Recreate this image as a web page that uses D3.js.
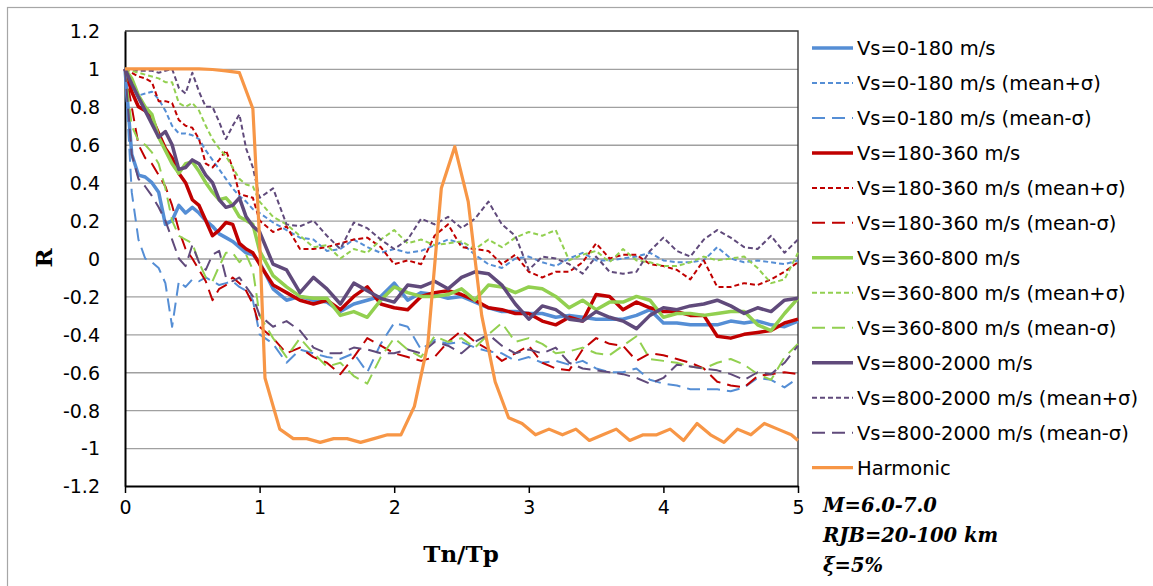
<!DOCTYPE html>
<html>
<head>
<meta charset="utf-8">
<script src="https://cdn.jsdelivr.net/npm/d3@7"></script>
<style>
  body { margin: 0; background: #fff; }
  svg { display: block; }
</style>
</head>
<body>
<svg id="chart" width="1153" height="586"></svg>
<script>
// Tn/Tp grid shared by the Vs curves (finer steps below 1.0)
const T = [0, 0.05, 0.1, 0.15, 0.2, 0.25, 0.3, 0.35, 0.4, 0.45, 0.5, 0.55, 0.6, 0.65, 0.7, 0.75, 0.8, 0.85, 0.9, 0.95, 1.0,
  1.1, 1.2, 1.3, 1.4, 1.5, 1.6, 1.7, 1.8, 1.9, 2.0,
  2.1, 2.2, 2.3, 2.4, 2.5, 2.6, 2.7, 2.8, 2.9, 3.0,
  3.1, 3.2, 3.3, 3.4, 3.5, 3.6, 3.7, 3.8, 3.9, 4.0,
  4.1, 4.2, 4.3, 4.4, 4.5, 4.6, 4.7, 4.8, 4.9, 5.0]

// Vs=0-180 m/s
const vs0_180 = [1, .55, .44, .43, .4, .35, .18, .2, .28, .24, .27, .24, .2, .17, .13, .11, .09, .06, .03, .02, -.02,
  -.16, -.22, -.2, -.22, -.23, -.28, -.24, -.22, -.2, -.13,
  -.22, -.18, -.19, -.21, -.2, -.23, -.26, -.28, -.28, -.29,
  -.29, -.31, -.3, -.31, -.32, -.32, -.32, -.3, -.27, -.34,
  -.34, -.35, -.35, -.35, -.33, -.34, -.33, -.35, -.36, -.33]
const vs0_180_plus = [1, .94, .86, .87, .88, .84, .78, .7, .66, .66, .65, .63, .57, .52, .47, .42, .37, .33, .3, .26, .24,
  .19, .15, .11, .1, .04, .05, .1, .06, .03, .05,
  .03, .04, .07, .1, .08, .02, -.03, -.05, 0, .01,
  -.02, -.04, 0, .03, -.01, -.01, 0, .01, .03, -.01,
  -.02, -.02, -.01, .06, 0, -.02, -.01, -.02, -.03, -.01]
const vs0_180_minus = [1, .35, .1, 0, -.02, -.05, -.13, -.36, -.12, -.15, -.11, -.12, -.1, -.12, -.14, -.13, -.12, -.15, -.17, -.22, -.4,
  -.45, -.55, -.48, -.5, -.52, -.53, -.5, -.6, -.45, -.34,
  -.36, -.48, -.43, -.45, -.44, -.47, -.49, -.5, -.54, -.52,
  -.55, -.54, -.56, -.54, -.58, -.6, -.6, -.58, -.64, -.66,
  -.67, -.69, -.69, -.69, -.7, -.68, -.63, -.64, -.68, -.63]

// Vs=180-360 m/s
const vs180_360 = [1, .88, .8, .78, .74, .66, .58, .53, .45, .4, .31, .28, .2, .12, .15, .19, .18, .08, .05, .03, -.03,
  -.14, -.18, -.22, -.24, -.22, -.27, -.2, -.15, -.24, -.26,
  -.27, -.2, -.18, -.17, -.19, -.22, -.26, -.27, -.29, -.29,
  -.33, -.35, -.31, -.33, -.19, -.2, -.27, -.23, -.26, -.28,
  -.28, -.3, -.3, -.41, -.42, -.4, -.39, -.38, -.34, -.32]
const vs180_360_plus = [1, .98, .96, .95, .93, .83, .83, .82, .73, .7, .69, .63, .5, .48, .52, .57, .48, .34, .33, .32, .2,
  .14, .17, .05, .05, .06, .08, .1, .11, .06, -.03,
  -.01, -.03, .12, .18, .06, .05, .04, -.03, .02, -.07,
  -.1, -.07, -.07, -.02, .08, 0, .02, .02, -.03, -.04,
  -.06, -.11, -.01, -.15, -.15, -.13, -.14, -.11, -.07, -.02]
const vs180_360_minus = [1, .8, .6, .53, .5, .44, .38, .28, .15, .05, 0, -.06, -.12, -.22, -.16, -.14, -.1, -.13, -.17, -.24, -.36,
  -.42, -.5, -.47, -.52, -.55, -.61, -.52, -.42, -.46, -.5,
  -.52, -.54, -.52, -.44, -.38, -.44, -.48, -.54, -.5, -.46,
  -.55, -.58, -.59, -.48, -.42, -.45, -.46, -.54, -.5, -.51,
  -.53, -.55, -.58, -.65, -.67, -.68, -.62, -.61, -.6, -.61]

// Vs=360-800 m/s
const vs360_800 = [1, .95, .86, .8, .76, .64, .57, .5, .45, .5, .51, .46, .4, .35, .31, .32, .28, .22, .2, .18, .04,
  -.09, -.15, -.2, -.21, -.21, -.3, -.28, -.31, -.22, -.15,
  -.18, -.2, -.2, -.19, -.16, -.22, -.14, -.15, -.18, -.15,
  -.16, -.2, -.26, -.22, -.27, -.23, -.23, -.2, -.22, -.31,
  -.29, -.29, -.3, -.29, -.28, -.28, -.35, -.38, -.29, -.21]
const vs360_800_plus = [1, .99, .98, .97, .96, .95, .93, .93, .82, .8, .82, .78, .7, .63, .58, .54, .48, .42, .39, .38, .3,
  .22, .18, .12, .06, .07, 0, .05, .03, .1, .15,
  .08, .1, .07, .08, .09, .05, .1, .06, .11, .14,
  .12, .15, -.01, .02, .04, -.02, .05, -.01, -.02, -.04,
  -.04, -.02, .01, -.01, 0, .01, -.05, -.13, -.11, .03]
const vs360_800_minus = [1, .7, .62, .6, .56, .5, .37, .2, .12, .1, .08, -.02, -.1, -.12, -.04, .03, .03, -.02, .02, -.06, -.3,
  -.42, -.52, -.42, -.5, -.57, -.55, -.62, -.66, -.52, -.42,
  -.48, -.52, -.41, -.44, -.42, -.47, -.4, -.34, -.44, -.42,
  -.45, -.5, -.49, -.47, -.5, -.51, -.46, -.41, -.53, -.54,
  -.55, -.57, -.58, -.55, -.53, -.56, -.61, -.64, -.52, -.45]

// Vs=800-2000 m/s
const vs800_2000 = [1, .92, .85, .78, .71, .64, .67, .6, .47, .48, .52, .5, .44, .4, .31, .27, .28, .32, .22, .17, .14,
  -.03, -.06, -.18, -.1, -.16, -.24, -.13, -.17, -.21, -.23,
  -.14, -.15, -.12, -.16, -.1, -.07, -.08, -.14, -.24, -.32,
  -.25, -.27, -.32, -.33, -.28, -.31, -.33, -.37, -.3, -.26,
  -.27, -.25, -.24, -.22, -.25, -.29, -.26, -.28, -.22, -.21]
const vs800_2000_plus = [1, 1, .99, .99, .99, .98, .99, 1, .9, .87, .98, .88, .8, .8, .72, .63, .7, .76, .58, .48, .32,
  .37, .18, .17, .2, .12, .05, .19, .16, .1, .05,
  .1, .21, .18, .22, .16, .21, .3, .18, .12, -.06,
  .01, 0, -.03, -.08, .01, -.07, -.08, -.07, .04, .11,
  .04, .01, .1, .15, .11, .06, .05, .12, .03, .1]
const vs800_2000_minus = [1, .55, .42, .38, .33, .27, .2, .1, 0, -.04, .07, -.02, -.06, .02, .04, -.1, -.12, -.1, -.15, -.2, -.3,
  -.36, -.33, -.38, -.47, -.5, -.5, -.47, -.48, -.5, -.5,
  -.48, -.5, -.44, -.46, -.5, -.44, -.4, -.46, -.5, -.48,
  -.5, -.47, -.55, -.58, -.59, -.6, -.61, -.63, -.66, -.63,
  -.56, -.57, -.58, -.59, -.61, -.64, -.6, -.61, -.55, -.46]

// Harmonic
const harmT = [0, 0.25, 0.55, 0.65, 0.75, 0.85, 0.95, 1.0, 1.04, 1.15, 1.25, 1.35, 1.45, 1.55, 1.65, 1.75, 1.85, 1.95,
  2.05, 2.15, 2.25, 2.35, 2.45, 2.55, 2.65, 2.75, 2.85, 2.95,
  3.05, 3.15, 3.25, 3.35, 3.45, 3.55, 3.65, 3.75, 3.85, 3.95,
  4.05, 4.15, 4.25, 4.35, 4.45, 4.55, 4.65, 4.75, 4.85, 4.95, 5.0]
const harmonic = [1, 1, 1, .997, .99, .98, .79, .1, -.63, -.9, -.95, -.95, -.97, -.95, -.95, -.97, -.95, -.93,
  -.93, -.78, -.45, .37, .59, .3, -.3, -.65, -.84, -.87,
  -.93, -.9, -.93, -.9, -.96, -.93, -.9, -.96, -.93, -.93,
  -.9, -.96, -.87, -.93, -.97, -.9, -.93, -.87, -.9, -.93, -.96]

const yTicks = [-1.2, -1, -0.8, -0.6, -0.4, -0.2, 0, 0.2, 0.4, 0.6, 0.8, 1, 1.2]
const xTicks = [0, 1, 2, 3, 4, 5]
const notes = ['M=6.0-7.0', 'RJB=20-100 km', 'ξ=5%']

const BLUE = '#558ED5', RED = '#C00000', GREEN = '#92D050', PURPLE = '#604A7B', ORANGE = '#F79646'

// 系列表
const series = [
  { name: 'Vs=0-180 m/s', color: BLUE, kind: 'mean', xs: T, ys: vs0_180 },
  { name: 'Vs=0-180 m/s (mean+σ)', color: BLUE, kind: 'plus', xs: T, ys: vs0_180_plus },
  { name: 'Vs=0-180 m/s (mean-σ)', color: BLUE, kind: 'minus', xs: T, ys: vs0_180_minus },
  { name: 'Vs=180-360 m/s', color: RED, kind: 'mean', xs: T, ys: vs180_360 },
  { name: 'Vs=180-360 m/s (mean+σ)', color: RED, kind: 'plus', xs: T, ys: vs180_360_plus },
  { name: 'Vs=180-360 m/s (mean-σ)', color: RED, kind: 'minus', xs: T, ys: vs180_360_minus },
  { name: 'Vs=360-800 m/s', color: GREEN, kind: 'mean', xs: T, ys: vs360_800 },
  { name: 'Vs=360-800 m/s (mean+σ)', color: GREEN, kind: 'plus', xs: T, ys: vs360_800_plus },
  { name: 'Vs=360-800 m/s (mean-σ)', color: GREEN, kind: 'minus', xs: T, ys: vs360_800_minus },
  { name: 'Vs=800-2000 m/s', color: PURPLE, kind: 'mean', xs: T, ys: vs800_2000 },
  { name: 'Vs=800-2000 m/s (mean+σ)', color: PURPLE, kind: 'plus', xs: T, ys: vs800_2000_plus },
  { name: 'Vs=800-2000 m/s (mean-σ)', color: PURPLE, kind: 'minus', xs: T, ys: vs800_2000_minus },
  { name: 'Harmonic', color: ORANGE, kind: 'harm', xs: harmT, ys: harmonic }
]

const styles = {
  mean: { width: 3.5, dash: null },
  plus: { width: 2, dash: '5,3' },
  minus: { width: 2, dash: '13,7' },
  harm: { width: 3.2, dash: null }
}

const SANS = 'DejaVu Sans, sans-serif'
const SERIF = 'DejaVu Serif, serif'

const margin = { left: 125, right: 798, top: 31, bottom: 486 }
const svg = d3.select('#chart')

// 外框
svg.append('rect')
  .attr('x', 7.5).attr('y', 7.5)
  .attr('width', 1200).attr('height', 600)
  .attr('fill', '#fff')
  .attr('stroke', '#A6A6A6')
  .attr('stroke-width', 1.2)

const x = d3.scaleLinear().domain([0, 5]).range([margin.left, margin.right])
const y = d3.scaleLinear().domain([-1.2, 1.2]).range([margin.bottom, margin.top])

// gridlines
svg.append('g')
  .attr('transform', `translate(${margin.left},0)`)
  .call(d3.axisLeft(y).tickValues(yTicks.slice(1, -1)).tickSize(-(margin.right - margin.left)).tickFormat(''))
  .call(g => g.select('.domain').remove())
  .call(g => g.selectAll('line').attr('stroke', '#A0A0A0').attr('stroke-width', 1.3))

// plot border (top / right)
svg.append('path')
  .attr('d', `M${margin.left},${margin.top}H${margin.right}V${margin.bottom}`)
  .attr('fill', 'none')
  .attr('stroke', '#3a3a3a')
  .attr('stroke-width', 1.4)

// y axis
svg.append('g')
  .attr('transform', `translate(${margin.left},0)`)
  .call(d3.axisLeft(y).tickValues(yTicks).tickSize(0).tickPadding(25)
    .tickFormat(d => String(+d.toFixed(1))))
  .call(g => g.select('.domain').attr('stroke', '#000').attr('stroke-width', 2))
  .call(g => g.selectAll('text')
    .attr('font-family', SANS).attr('font-size', 19).attr('fill', '#000').attr('dy', '0.36em'))

// x axis
svg.append('g')
  .attr('transform', `translate(0,${margin.bottom})`)
  .call(d3.axisBottom(x).tickValues(xTicks).tickSizeOuter(0).tickSizeInner(7).tickPadding(19)
    .tickFormat(d3.format('d')))
  .call(g => g.select('.domain').attr('stroke', '#000').attr('stroke-width', 2))
  .call(g => g.selectAll('line').attr('stroke', '#000').attr('stroke-width', 1.5))
  .call(g => g.selectAll('text')
    .attr('font-family', SANS).attr('font-size', 19).attr('fill', '#000').attr('dy', '0.1em'))

// axis titles
svg.append('text')
  .attr('transform', 'translate(52,258) rotate(-90)')
  .attr('text-anchor', 'middle')
  .attr('font-family', SERIF).attr('font-weight', 'bold').attr('font-size', 23)
  .text('R')

svg.append('text')
  .attr('x', 461).attr('y', 562)
  .attr('text-anchor', 'middle')
  .attr('font-family', SERIF).attr('font-weight', 'bold').attr('font-size', 23)
  .text('Tn/Tp')

// lines
const line = d3.line().x(d => x(d[0])).y(d => y(d[1]))
const gLines = svg.append('g').attr('fill', 'none')
series.forEach(s => {
  const st = styles[s.kind]
  gLines.append('path')
    .datum(d3.zip(s.xs, s.ys))
    .attr('d', line)
    .attr('stroke', s.color)
    .attr('stroke-width', st.width)
    .attr('stroke-linejoin', 'round')
    .attr('stroke-dasharray', st.dash)
})

// legend
const legend = svg.append('g').attr('transform', 'translate(812,48)')
const item = legend.selectAll('g.item')
  .data(series)
  .join('g')
  .attr('class', 'item')
  .attr('transform', (d, i) => `translate(0,${i * 34.97})`)

item.append('line')
  .attr('x1', 0).attr('x2', 41)
  .attr('stroke', d => d.color)
  .attr('stroke-width', d => styles[d.kind].width)
  .attr('stroke-dasharray', d => styles[d.kind].dash)

item.append('text')
  .attr('x', 45).attr('dy', '0.36em')
  .attr('font-family', SANS).attr('font-size', 19.5).attr('fill', '#000')
  .text(d => d.name)

// notes
svg.append('g')
  .selectAll('text')
  .data(notes)
  .join('text')
  .attr('x', 823)
  .attr('y', (d, i) => 512 + i * 30)
  .attr('font-family', SERIF).attr('font-weight', 'bold').attr('font-style', 'italic')
  .attr('font-size', 19.5)
  .text(d => d)
</script>
</body>
</html>
